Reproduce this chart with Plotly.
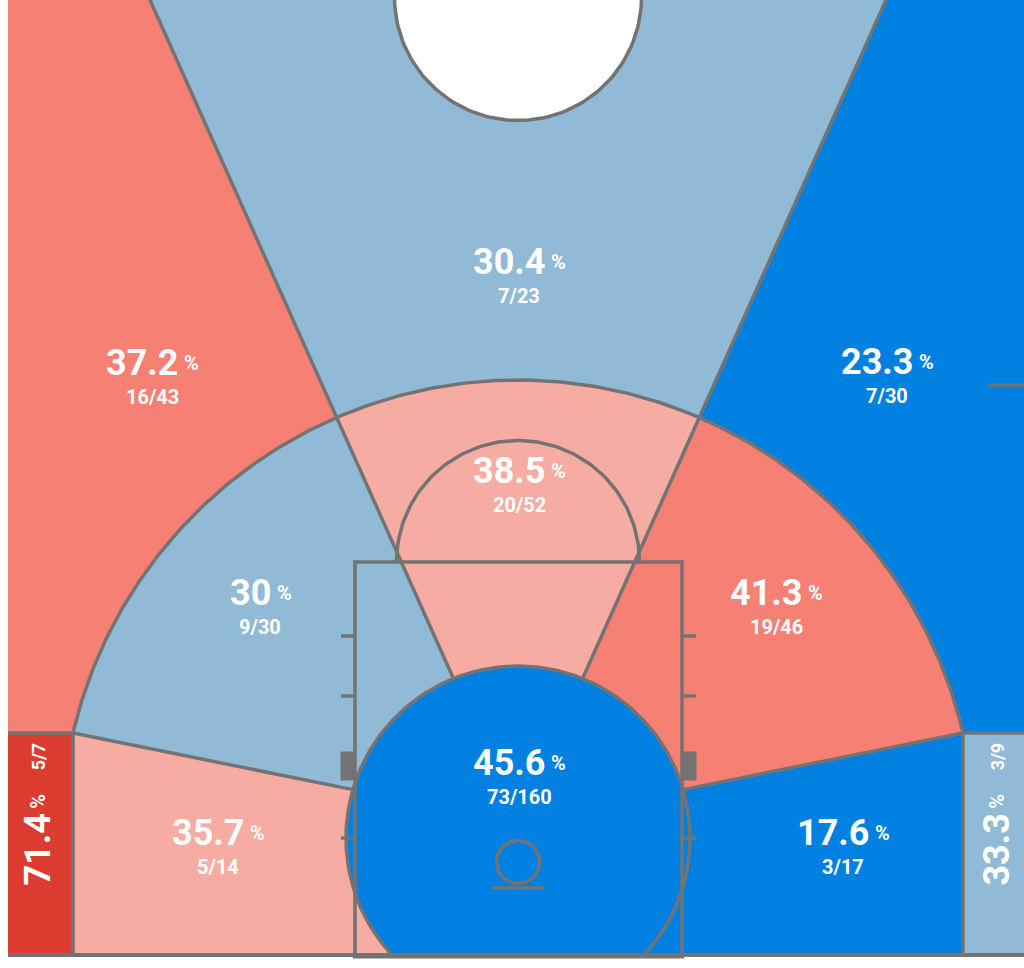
import numpy as np
import plotly.graph_objects as go

# ---------------- data ----------------
zone_names = ["Left Corner 3", "Left Wing 3", "Top of Key 3", "Right Wing 3", "Right Corner 3",
              "Left Baseline Mid", "Left Wing Mid", "Center Mid", "Right Wing Mid",
              "Right Baseline Mid", "Restricted Area"]
made = [5, 16, 7, 7, 3, 5, 9, 20, 19, 3, 73]
attempts = [7, 43, 23, 30, 9, 14, 30, 52, 46, 17, 160]
zone_rating = ["very_hot", "hot", "cool", "cold", "cool",
               "warm", "cool", "warm", "hot", "cold", "cold"]

# ---------------- style ----------------
RATING_COLORS = {"very_hot": "#DC3B2F", "hot": "#F58073", "warm": "#F6ACA2",
                 "cool": "#91BAD6", "cold": "#0080E0"}
LINE_COLOR = "#737373"
LW = 3.5
FONT = "Roboto"

# ---------------- court geometry (screen units) ----------------
W, H = 1024, 968
LEFT_X, RIGHT_X = 8, 1030
TOP_Y, BASE_Y = -20, 955
HOOP_X = 518
ARC_CY = 837
CORNER_XL, CORNER_XR, CORNER_Y = 73, 963, 733
ARC_R = float(np.hypot(HOOP_X - CORNER_XL, ARC_CY - CORNER_Y))
RAY_OX, RAY_OY = 518, 823
UPPER_RAY_DX = 368          # horizontal offset of upper rays at y = 0
RA_CY, RA_R = 838, 172
PAINT_L, PAINT_R, FT_Y = 355, 682, 562
FT_R = 121.5
RIM_Y, RIM_R = 862, 21.5
BOARD_Y, BOARD_HALF = 888, 26.5
CC_Y, CC_R = -3, 123.5
HASH_Y = [636, 696, 838]
BLOCK_Y = (752, 780)
HASH_LEN = 14
SIDE_TICK_Y, SIDE_TICK_X0 = 385, 988

th_ur = np.arctan2(RAY_OY, UPPER_RAY_DX)
th_ul = np.pi - th_ur
th_lr = np.arctan2(RAY_OY - CORNER_Y, CORNER_XR - RAY_OX)
th_ll = np.pi - th_lr


def ray_at_y(th, y):
    t = (RAY_OY - y) / np.sin(th)
    return (RAY_OX + t * np.cos(th), y)


def ray_circle(th, cx, cy, r):
    dx, dy = np.cos(th), -np.sin(th)
    ox, oy = RAY_OX - cx, RAY_OY - cy
    b = ox * dx + oy * dy
    c = ox * ox + oy * oy - r * r
    t = -b + np.sqrt(b * b - c)
    return (RAY_OX + t * dx, RAY_OY + t * dy)


def ang(cx, cy, p):
    return np.arctan2(cy - p[1], p[0] - cx)


def arc(cx, cy, r, a0, a1, n=120):
    a = np.linspace(a0, a1, n)
    return [(cx + r * np.cos(v), cy - r * np.sin(v)) for v in a]


P_ul_top, P_ur_top = ray_at_y(th_ul, TOP_Y), ray_at_y(th_ur, TOP_Y)
P_ul_arc = ray_circle(th_ul, HOOP_X, ARC_CY, ARC_R)
P_ur_arc = ray_circle(th_ur, HOOP_X, ARC_CY, ARC_R)
CL = ray_circle(th_ll, HOOP_X, ARC_CY, ARC_R)
CR = ray_circle(th_lr, HOOP_X, ARC_CY, ARC_R)
P_ul_ra = ray_circle(th_ul, HOOP_X, RA_CY, RA_R)
P_ur_ra = ray_circle(th_ur, HOOP_X, RA_CY, RA_R)
P_ll_ra = ray_circle(th_ll, HOOP_X, RA_CY, RA_R)
P_lr_ra = ray_circle(th_lr, HOOP_X, RA_CY, RA_R)

a_ul, a_ur = ang(HOOP_X, ARC_CY, P_ul_arc), ang(HOOP_X, ARC_CY, P_ur_arc)
a_cl, a_cr = ang(HOOP_X, ARC_CY, CL), ang(HOOP_X, ARC_CY, CR)
r_ul, r_ur = ang(HOOP_X, RA_CY, P_ul_ra), ang(HOOP_X, RA_CY, P_ur_ra)
r_ll, r_lr = ang(HOOP_X, RA_CY, P_ll_ra), ang(HOOP_X, RA_CY, P_lr_ra)
r_br = -np.arcsin((BASE_Y - RA_CY) / RA_R)
r_bl = np.pi - r_br
ra_base_l = (HOOP_X + RA_R * np.cos(r_bl), BASE_Y)
ra_base_r = (HOOP_X + RA_R * np.cos(r_br), BASE_Y)

zone_polys = [
    # left corner 3
    [(LEFT_X, CORNER_Y), (CL[0], CORNER_Y), (CL[0], BASE_Y), (LEFT_X, BASE_Y)],
    # left wing 3
    [(LEFT_X, TOP_Y), P_ul_top, P_ul_arc] + arc(HOOP_X, ARC_CY, ARC_R, a_ul, a_cl) + [CL, (LEFT_X, CORNER_Y)],
    # top 3
    [P_ul_top, P_ur_top, P_ur_arc] + arc(HOOP_X, ARC_CY, ARC_R, a_ur, a_ul) + [P_ul_arc],
    # right wing 3
    [P_ur_top, (RIGHT_X, TOP_Y), (RIGHT_X, CORNER_Y), CR] + arc(HOOP_X, ARC_CY, ARC_R, a_cr, a_ur) + [P_ur_arc],
    # right corner 3
    [(CR[0], CORNER_Y), (RIGHT_X, CORNER_Y), (RIGHT_X, BASE_Y), (CR[0], BASE_Y)],
    # left baseline mid
    [CL, P_ll_ra] + arc(HOOP_X, RA_CY, RA_R, r_ll, r_bl) + [ra_base_l, (CL[0], BASE_Y)],
    # left wing mid
    [CL] + arc(HOOP_X, ARC_CY, ARC_R, a_cl, a_ul) + [P_ul_arc, P_ul_ra] + arc(HOOP_X, RA_CY, RA_R, r_ul, r_ll),
    # center mid
    [P_ul_arc] + arc(HOOP_X, ARC_CY, ARC_R, a_ul, a_ur) + [P_ur_arc, P_ur_ra] + arc(HOOP_X, RA_CY, RA_R, r_ur, r_ul),
    # right wing mid
    [P_ur_arc] + arc(HOOP_X, ARC_CY, ARC_R, a_ur, a_cr) + [CR, P_lr_ra] + arc(HOOP_X, RA_CY, RA_R, r_lr, r_ur),
    # right baseline mid
    [CR, (CR[0], BASE_Y), ra_base_r] + arc(HOOP_X, RA_CY, RA_R, r_br, r_lr) + [P_lr_ra],
    # restricted area
    arc(HOOP_X, RA_CY, RA_R, r_br, r_bl) + [ra_base_l, ra_base_r],
]

# label layout (group centre) and orientation
LABEL_POS = [(38, 814), (152, 363), (519, 262), (887, 362), (997, 814),
             (218, 833), (260, 593), (519, 471), (776, 593), (843, 833), (519, 763)]
LABEL_ROT = [True, False, False, False, True, False, False, False, False, False, False]

NUM_SIZE, PCT_SIZE, CNT_SIZE, CNT_ROT_SIZE = 36, 20, 20, 18
ADV = {".": 0.273, "/": 0.43, "%": 0.66}


def text_w(s, size):
    return size * sum(ADV.get(ch, 0.5615) for ch in s)


fig = go.Figure()

for poly, rating, name in zip(zone_polys, zone_rating, zone_names):
    xs = [p[0] for p in poly]
    ys = [p[1] for p in poly]
    fig.add_trace(go.Scatter(x=xs, y=ys, fill="toself", mode="lines",
                             fillcolor=RATING_COLORS[rating], line=dict(width=0),
                             hoverinfo="skip", showlegend=False, name=name))


def add_line(pts, width=LW, fill=None):
    fig.add_trace(go.Scatter(x=[p[0] for p in pts], y=[p[1] for p in pts], mode="lines",
                             line=dict(color=LINE_COLOR, width=width),
                             fill="toself" if fill else None, fillcolor=fill,
                             hoverinfo="skip", showlegend=False))


# half-court circle
add_line(arc(HOOP_X, CC_Y, CC_R, 0, 2 * np.pi, 200), fill="white")
# zone rays
add_line([P_ul_top, P_ul_ra])
add_line([P_ur_top, P_ur_ra])
add_line([CL, P_ll_ra])
add_line([CR, P_lr_ra])
# three point line
add_line([(CL[0], BASE_Y), CL] + arc(HOOP_X, ARC_CY, ARC_R, a_cl, a_cr, 300) + [CR, (CR[0], BASE_Y)])
# corner tops
add_line([(LEFT_X, CORNER_Y), CL])
add_line([CR, (RIGHT_X, CORNER_Y)])
# restricted circle outline
add_line(arc(HOOP_X, RA_CY, RA_R, r_br, r_bl, 200))
# paint
add_line([(PAINT_L, BASE_Y), (PAINT_L, FT_Y), (PAINT_R, FT_Y), (PAINT_R, BASE_Y)])
# free throw half circle
add_line(arc(HOOP_X, FT_Y, FT_R, 0, np.pi, 120))
# lane hash marks and blocks
for hy in HASH_Y:
    add_line([(PAINT_L - HASH_LEN, hy), (PAINT_L, hy)])
    add_line([(PAINT_R, hy), (PAINT_R + HASH_LEN, hy)])
for x0, x1 in [(PAINT_L - HASH_LEN, PAINT_L), (PAINT_R, PAINT_R + HASH_LEN)]:
    add_line([(x0, BLOCK_Y[0]), (x1, BLOCK_Y[0]), (x1, BLOCK_Y[1]), (x0, BLOCK_Y[1]), (x0, BLOCK_Y[0])],
             width=1, fill=LINE_COLOR)
# rim and backboard
add_line(arc(HOOP_X, RIM_Y, RIM_R, 0, 2 * np.pi, 80))
add_line([(HOOP_X - BOARD_HALF, BOARD_Y), (HOOP_X + BOARD_HALF, BOARD_Y)])
# sideline tick
add_line([(SIDE_TICK_X0, SIDE_TICK_Y), (RIGHT_X, SIDE_TICK_Y)])
# baseline and paint bottom
add_line([(LEFT_X, BASE_Y), (RIGHT_X, BASE_Y)], width=4)
add_line([(PAINT_L - 2, BASE_Y + 1), (PAINT_R + 2, BASE_Y + 1)], width=5)

# ---------------- labels ----------------
anns = []
for m, a, (gx, gy), rot in zip(made, attempts, LABEL_POS, LABEL_ROT):
    pct = f"{100 * m / a:.1f}"
    if pct.endswith(".0"):
        pct = pct[:-2]
    cnt = f"{m}/{a}"
    wn = text_w(pct, NUM_SIZE)
    wp = text_w("%", PCT_SIZE)
    big = dict(family=FONT, size=NUM_SIZE, color="white", weight="bold")
    small = dict(family=FONT, size=PCT_SIZE, color="white", weight="bold")
    if not rot:
        total = wn + 4 + wp
        left = gx - total / 2
        anns.append(dict(x=left + wn, y=gy, text=pct, xanchor="right", yanchor="middle",
                         font=big, showarrow=False, borderpad=0))
        anns.append(dict(x=left + wn + 4, y=gy, text="%", xanchor="left", yanchor="middle",
                         font=small, showarrow=False, borderpad=0))
        anns.append(dict(x=gx, y=gy + 34, text=cnt, xanchor="center", yanchor="middle",
                         font=dict(family=FONT, size=CNT_SIZE, color="white", weight="bold"),
                         showarrow=False, borderpad=0))
    else:
        wc = text_w(cnt, CNT_ROT_SIZE)
        total = wn + 6 + wp + 24 + wc
        bottom = gy + total / 2
        anns.append(dict(x=gx, y=bottom - wn / 2, text=pct, textangle=-90, xanchor="center",
                         yanchor="middle", font=big, showarrow=False, borderpad=0))
        anns.append(dict(x=gx, y=bottom - wn - 6 - wp / 2, text="%", textangle=-90, xanchor="center",
                         yanchor="middle", font=small, showarrow=False, borderpad=0))
        anns.append(dict(x=gx, y=bottom - wn - 6 - wp - 24 - wc / 2, text=cnt, textangle=-90,
                         xanchor="center", yanchor="middle",
                         font=dict(family=FONT, size=CNT_ROT_SIZE, color="white", weight="bold"),
                         showarrow=False, borderpad=0))

fig.update_layout(
    width=W, height=H, autosize=False,
    margin=dict(l=0, r=0, t=0, b=0, pad=0),
    paper_bgcolor="white", plot_bgcolor="white",
    xaxis=dict(range=[0, W], visible=False, fixedrange=True),
    yaxis=dict(range=[H, 0], visible=False, fixedrange=True),
    annotations=anns,
    showlegend=False,
)

fig.write_html("out.html", config={"displayModeBar": False},
               post_script="document.body.style.margin='0';document.body.style.overflow='hidden';")
